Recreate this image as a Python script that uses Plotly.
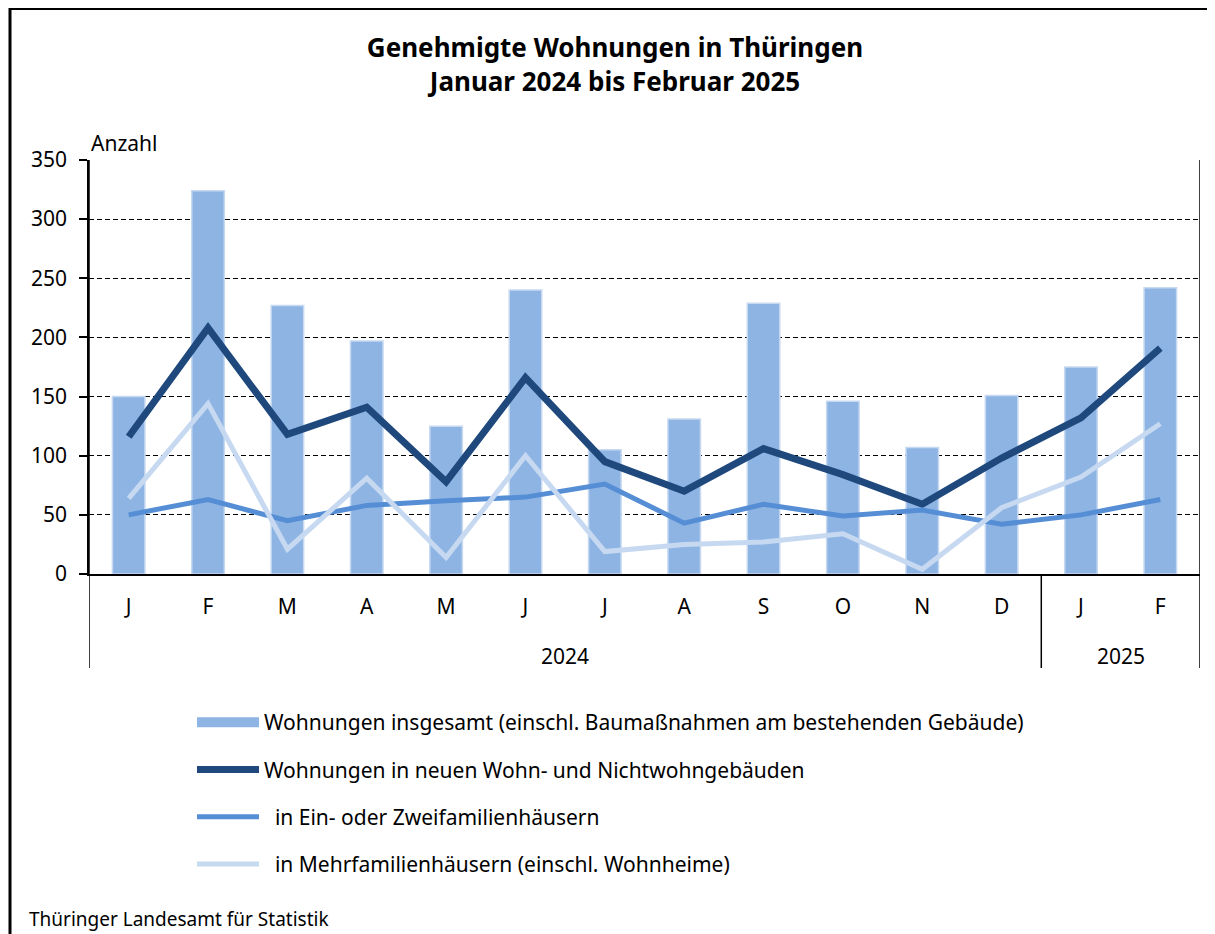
import plotly.graph_objects as go

# ---- data ----
months = ["J", "F", "M", "A", "M", "J", "J", "A", "S", "O", "N", "D", "J", "F"]
years = ["2024", "2025"]
year_counts = [12, 2]
insgesamt = [150, 324, 227, 197, 125, 240, 105, 131, 229, 146, 107, 151, 175, 242]
neubau = [116, 208, 118, 141, 78, 166, 95, 70, 106, 84, 59, 98, 132, 191]
ein_zwei = [50, 63, 45, 58, 62, 65, 76, 43, 59, 49, 54, 42, 50, 63]
mehr = [64, 144, 21, 81, 14, 100, 19, 25, 27, 34, 4, 56, 82, 127]

names = [
    "Wohnungen insgesamt (einschl. Baumaßnahmen am bestehenden Gebäude)",
    "Wohnungen in neuen Wohn- und Nichtwohngebäuden",
    "\u00a0\u00a0in Ein- oder Zweifamilienhäusern",
    "\u00a0\u00a0in Mehrfamilienhäusern (einschl. Wohnheime)",
]
title_text = "<b>Genehmigte Wohnungen in Thüringen<br>Januar 2024 bis Februar 2025</b>"
y_title = "Anzahl"
source = "Thüringer Landesamt für Statistik"

# ---- layout geometry (reference page pixels; page has 8px body offset) ----
W, H = 1215, 934
OFF = 8
L, R, T, B = 89, 1200, 160, 574
FONT = "Noto Sans"
FS = 21
C_BAR = "#8EB4E3"
C_BAR_EDGE = "#C6D9F1"
C_DARK = "#1F497D"
C_MED = "#558ED5"
C_LIGHT = "#C6D9F1"

def px_x(p):
    return (p - L) / (R - L)

def px_y(p):
    return (B - p) / (B - T)

x = list(range(len(months)))

fig = go.Figure()
fig.add_trace(go.Bar(x=x, y=insgesamt, width=0.41, marker=dict(color=C_BAR, line=dict(color=C_BAR_EDGE, width=1.5)),
                     showlegend=False, name=names[0]))
# legend swatch for bars (wide rectangle as in reference)
fig.add_trace(go.Scatter(x=[None], y=[None], mode="lines", line=dict(color=C_BAR, width=14),
                         name=names[0], legendgroup="a"))
fig.add_trace(go.Scatter(x=x, y=neubau, mode="lines", line=dict(color=C_DARK, width=7),
                         name=names[1], legendgroup="b"))
fig.add_trace(go.Scatter(x=x, y=ein_zwei, mode="lines", line=dict(color=C_MED, width=5),
                         name=names[2], legendgroup="c"))
fig.add_trace(go.Scatter(x=x, y=mehr, mode="lines", line=dict(color=C_LIGHT, width=5),
                         name=names[3], legendgroup="d"))

shapes = []
bottom_div = px_y(668)
start = -0.5
bounds = [start]
for c in year_counts:
    start += c
    bounds.append(start)
for bx in bounds:
    shapes.append(dict(type="line", xref="x", yref="paper", x0=bx, x1=bx, y0=bottom_div,
                       y1=1 if bx in (bounds[0], bounds[-1]) else 0,
                       line=dict(color="black", width=1.5)))
# outer frame (top and left)
shapes.append(dict(type="line", xref="paper", yref="paper", x0=px_x(9), x1=px_x(1225), y0=px_y(9), y1=px_y(9),
                   line=dict(color="black", width=2)))
shapes.append(dict(type="line", xref="paper", yref="paper", x0=px_x(10), x1=px_x(10), y0=px_y(8), y1=px_y(945),
                   line=dict(color="black", width=3)))

annotations = []
start = 0
for yr, c in zip(years, year_counts):
    annotations.append(dict(text=yr, x=start + (c - 1) / 2, xref="x", y=px_y(656), yref="paper",
                            showarrow=False, font=dict(size=FS, color="black"), yanchor="middle"))
    start += c
annotations.append(dict(text=y_title, x=0, xref="paper", y=px_y(143), yref="paper", xanchor="left",
                        yanchor="middle", showarrow=False, font=dict(size=FS, color="black")))
annotations.append(dict(text=source, x=px_x(27), xref="paper", y=px_y(919), yref="paper", xanchor="left",
                        yanchor="middle", showarrow=False, font=dict(size=19, color="black")))

fig.update_layout(
    width=W, height=H,
    margin=dict(l=L - OFF, r=W - (R - OFF), t=T - OFF, b=H - (B - OFF), autoexpand=False),
    paper_bgcolor="white", plot_bgcolor="white",
    font=dict(family=FONT, size=FS, color="black"),
    title=dict(text=title_text, x=(615 - OFF) / W, xref="container", xanchor="center",
               y=1 - 49 / H, yref="container", yanchor="top", font=dict(size=26, color="black")),
    showlegend=True,
    legend=dict(xref="container", yref="container", x=184 / W, y=1 - (702 - OFF) / H, xanchor="left", yanchor="top",
                traceorder="grouped", tracegroupgap=17, itemwidth=62, font=dict(size=FS),
                bgcolor="rgba(0,0,0,0)"),
    shapes=shapes,
    annotations=annotations,
)
fig.update_xaxes(range=[-0.5, len(months) - 0.5], tickmode="array", tickvals=x, ticktext=months,
                 showline=True, linecolor="black", linewidth=1.5, ticks="", showgrid=False,
                 ticklabelstandoff=13, tickangle=0, tickfont=dict(size=FS), zeroline=False, fixedrange=True)
fig.update_yaxes(range=[0, 350], dtick=50, showline=True, linecolor="black", linewidth=1.5,
                 ticks="outside", ticklen=8, tickcolor="black", tickwidth=1.5,
                 showgrid=True, gridcolor="black", gridwidth=1, griddash="5px,3px",
                 zeroline=False, ticklabelstandoff=8, tickfont=dict(size=FS))

fig.write_html("out.html")
